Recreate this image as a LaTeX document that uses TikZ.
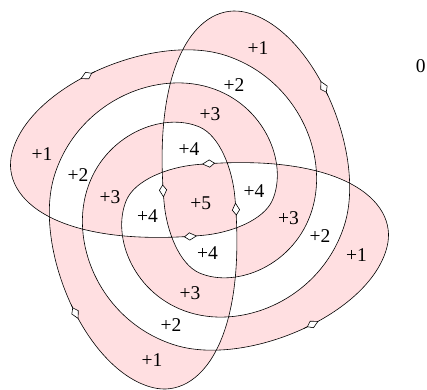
\documentclass[tikz,border=0pt]{standalone}
\usepackage{fontspec}
\setmainfont{Liberation Serif}
\usetikzlibrary{arrows.meta}

\definecolor{lobepink}{RGB}{255,223,225}
\tikzset{
  flow/.style={-{Kite[length=13pt, width=8pt, inset=5.5pt, fill=white]}, line width=0.6pt},
  num/.style={font=\fontsize{19.5}{22}\selectfont, inner sep=0pt}
}

\begin{document}
\begin{tikzpicture}[x=1pt, y=1pt]
  \useasboundingbox (-199.5,-189) rectangle (227.5,200);

  % Kurven, fire like buer, ulike omloepstall fylt
  \filldraw[even odd rule, fill=lobepink, line width=0.6pt]
    (185:35.5)
    \foreach \a in {0,-90,-180,-270} {
      .. controls +({95+\a}:145) and +({166+\a}:48) .. ({76+\a}:193.3)
      .. controls +({-14+\a}:70) and +({72.2+\a}:75) .. ({-10+\a}:147)
      .. controls +({-107.8+\a}:74) and +({-17+\a}:60) .. ({-95+\a}:113)
      .. controls +({163+\a}:58) and +({-113.3+\a}:40) .. ({-180+\a}:73)
      .. controls +({66.7+\a}:22) and +({185+\a}:28) .. ({-265+\a}:35.5)
    } -- cycle;

  % Retningspiler
  \foreach \a in {0,-90,-180,-270} {
    \draw[flow] ({\a+157.2}:40) -- ({\a+176}:36);
    \draw[flow] ({\a+39.2}:165.6) -- ({\a+44.5}:169.8);
  }

  % Omloepstall
  \node[num] (w5) at (1.3,-3.3) {+5};
  \node[num] (n4) at (-10.5,51) {+4};
  \node[num] (n3) at (10.5,85.5) {+3};
  \node[num] (n2) at (34.5,114.5) {+2};
  \node[num] (n1) at (58.5,151.5) {+1};
  \node[num] (e4) at (54.5,8.5) {+4};
  \node[num] (e3) at (89,-18.5) {+3};
  \node[num] (e2) at (120.5,-36) {+2};
  \node[num] (e1) at (157,-55) {+1};
  \node[num] (s4) at (8,-53.5) {+4};
  \node[num] (s3) at (-9.5,-93.5) {+3};
  \node[num] (s2) at (-28.5,-125) {+2};
  \node[num] (s1) at (-47.5,-160) {+1};
  \node[num] (v4) at (-52,-16.5) {+4};
  \node[num] (v3) at (-89.5,2.5) {+3};
  \node[num] (v2) at (-121.5,24.5) {+2};
  \node[num] (v1) at (-157.5,45.5) {+1};
  \node[num] (w0) at (221.2,133.7) {0};
\end{tikzpicture}
\end{document}
